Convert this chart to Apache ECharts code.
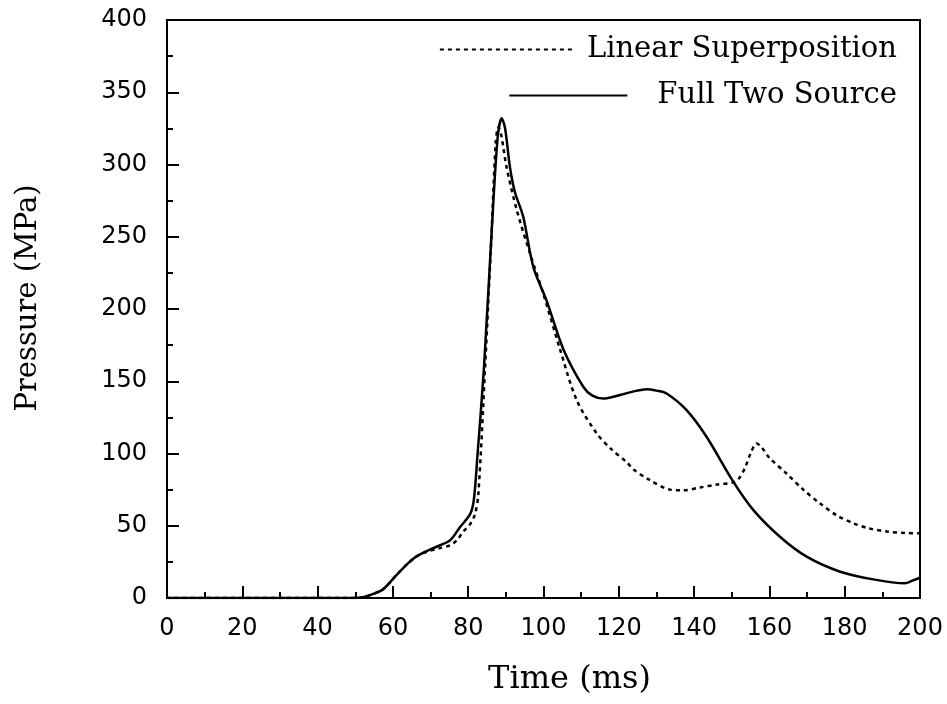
<!DOCTYPE html>
<html>
<head>
<meta charset="utf-8">
<script src="https://cdn.jsdelivr.net/npm/echarts@6/dist/echarts.min.js"></script>
<style>html,body{margin:0;padding:0;background:#fff}#c{width:947px;height:704px}</style>
</head>
<body>
<div id="c"></div>
<script>
// Full Two Source (solid)
const fullTime = [0, 50, 52, 55, 57.4, 61, 64, 66.4, 70.7, 75.2, 77.8, 80.5, 81.5, 82.5, 84.2, 86.2, 87.8, 88.9, 89.8, 91.1, 92.4, 94.6, 97.3, 100.8, 105.3, 110.6, 113, 115.9, 120.3, 124, 127.4, 130, 132.7, 138, 143.3, 150.4, 155.7, 162.8, 169.9, 178.8, 187.6, 196, 198, 200];
const fullPressure = [0, 0, 0.5, 3, 6, 16, 24, 29, 34.5, 40, 49, 58, 68, 100, 160, 252, 318, 332, 325, 298, 281, 264, 229, 206, 172, 146, 140, 138, 140.5, 143, 144.5, 143.5, 141.5, 130, 111.6, 80.5, 61, 42.4, 28.6, 18.2, 12.9, 10.2, 12, 14];
// Linear Superposition (dashed)
const linTime = [0, 50, 52, 55, 57.4, 61, 64, 66.4, 69, 72.5, 75.2, 77, 78.7, 80.5, 81.8, 82.7, 84.5, 86.2, 87.3, 88, 88.8, 90.2, 92.9, 96.4, 99.9, 104.4, 108.8, 114.1, 118, 122.1, 123.9, 128, 133.6, 137, 141.6, 146, 150.4, 152, 153.5, 155, 156.6, 158, 160, 164.6, 169, 173.4, 178, 182.3, 186, 191.2, 196, 200];
const linPressure = [0, 0, 0.5, 3, 6, 16, 24, 29, 32, 34.5, 36.5, 40, 46, 51, 58, 72, 160, 252, 315, 326, 320, 298, 268.5, 238.5, 211, 172, 137, 114, 103, 94, 89, 82, 75, 74.5, 76.5, 78.5, 80, 83, 90, 100, 107, 104, 97, 86, 75, 65.5, 57, 51.7, 48.5, 46, 45, 44.8];
const xTicks = [0, 20, 40, 60, 80, 100, 120, 140, 160, 180, 200];
const yTicks = [0, 50, 100, 150, 200, 250, 300, 350, 400];
const seriesNames = ['Linear Superposition', 'Full Two Source'];

const pair = (xs, ys) => xs.map((x, i) => [x, ys[i]]);
const serif = 'DejaVu Serif';
const sans = 'DejaVu Sans';
const noSymbol = {color: 'transparent', borderWidth: 0, opacity: 0};

const chart = echarts.init(document.getElementById('c'), null, {renderer: 'canvas'});
chart.setOption({
  animation: false,
  backgroundColor: '#fff',
  grid: {left: 167, right: 27, top: 20, bottom: 106, show: true, borderColor: '#000', borderWidth: 2, backgroundColor: 'transparent'},
  legend: [
    {data: [seriesNames[0]], right: 45, top: 30, itemWidth: 133, itemHeight: 14, itemStyle: noSymbol,
     textStyle: {fontFamily: serif, fontSize: 29, color: '#000', padding: [0, 0, 0, 9]}},
    {data: [seriesNames[1]], right: 45, top: 76, itemWidth: 118, itemHeight: 14, itemStyle: noSymbol,
     textStyle: {fontFamily: serif, fontSize: 29, color: '#000', padding: [0, 0, 0, 25]}}
  ],
  xAxis: {
    type: 'value', min: xTicks[0], max: xTicks[xTicks.length - 1], interval: 20,
    name: 'Time (ms)', nameLocation: 'middle', nameGap: 66,
    nameTextStyle: {fontFamily: serif, fontSize: 32, color: '#000', padding: [0, 0, 0, 52]},
    axisLine: {lineStyle: {color: '#000', width: 2}},
    axisTick: {inside: true, length: 12, lineStyle: {color: '#000', width: 2}},
    minorTick: {show: true, splitNumber: 2, length: 6, lineStyle: {color: '#000', width: 2}},
    splitLine: {show: false},
    axisLabel: {fontFamily: sans, fontSize: 24, color: '#000', margin: 19}
  },
  yAxis: {
    type: 'value', min: yTicks[0], max: yTicks[yTicks.length - 1], interval: 50,
    name: 'Pressure (MPa)', nameLocation: 'middle', nameGap: 124, nameRotate: 90,
    nameTextStyle: {fontFamily: serif, fontSize: 29, color: '#000', padding: [0, 0, 0, 22]},
    axisLine: {show: true, lineStyle: {color: '#000', width: 2}},
    axisTick: {show: true, inside: true, length: 12, lineStyle: {color: '#000', width: 2}},
    minorTick: {show: true, splitNumber: 2, length: 6, lineStyle: {color: '#000', width: 2}},
    splitLine: {show: false},
    axisLabel: {fontFamily: sans, fontSize: 24, color: '#000', margin: 20}
  },
  series: [
    {name: seriesNames[0], type: 'line', data: pair(linTime, linPressure), showSymbol: false, symbol: 'none', smooth: 0.3,
     lineStyle: {color: '#000', width: 2.5, type: [4, 4]}, itemStyle: {color: '#000'}},
    {name: seriesNames[1], type: 'line', data: pair(fullTime, fullPressure), showSymbol: false, symbol: 'none', smooth: 0.3,
     lineStyle: {color: '#000', width: 2.5, type: 'solid'}, itemStyle: {color: '#000'}}
  ]
});
</script>
</body>
</html>
